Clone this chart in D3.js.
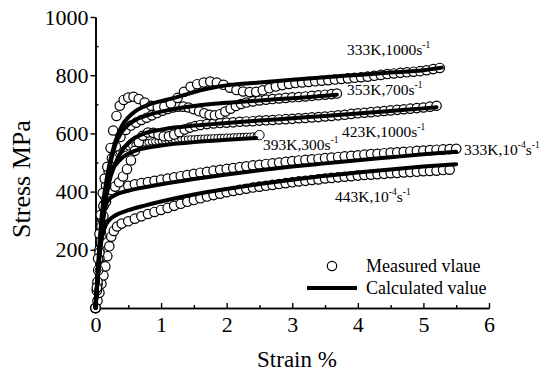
<!DOCTYPE html>
<html><head><meta charset="utf-8">
<script src="https://cdn.jsdelivr.net/npm/d3@7"></script>
<style>
body{margin:0;background:#fff}
svg{display:block}
</style>
</head><body>
<svg id="chart" width="548" height="374"></svg>
<script>
// ---- tick labels ----
const xTicks = [0, 1, 2, 3, 4, 5, 6];
const xMinorTicks = [0.5, 1.5, 2.5, 3.5, 4.5, 5.5];
const yTicks = [200, 400, 600, 800, 1000];
const yMinorTicks = [100, 300, 500, 700, 900];

// ---- series: [strain %, stress MPa] ----
const measured333K1000 = [[0,0],[0.02,70],[0.04,170],[0.06,255],[0.08,320],[0.11,395],[0.14,445],[0.18,485],[0.23,550],[0.27,610],[0.32,660],[0.37,695],[0.43,715],[0.5,723],[0.58,726],[0.66,718],[0.75,706],[0.85,695],[0.95,690],[1.05,692],[1.15,703],[1.25,722],[1.35,743],[1.45,760],[1.55,769],[1.65,775],[1.75,778],[1.85,775],[1.95,767],[2.05,757],[2.15,749],[2.25,744],[2.35,742],[2.45,743],[2.55,748],[2.65,755],[2.75,761],[2.85,766],[2.95,770],[3.05,773],[3.15,775],[3.25,777],[3.35,779],[3.45,781],[3.55,783],[3.65,785],[3.75,787],[3.85,789],[3.95,791],[4.05,793],[4.15,795],[4.25,798],[4.35,801],[4.45,804],[4.55,806],[4.65,808],[4.75,810],[4.85,812],[4.95,814],[5.05,817],[5.15,821],[5.25,825]];
const calc333K1000 = [[0,0],[0.03,110],[0.06,220],[0.1,330],[0.15,415],[0.2,480],[0.3,570],[0.4,625],[0.5,655],[0.6,675],[0.7,688],[0.8,698],[1.0,711],[1.2,722],[1.4,735],[1.6,748],[1.8,758],[2.0,765],[2.5,775],[3.0,784],[3.5,793],[4.0,801],[4.5,809],[5.0,817],[5.28,826]];

const measured353K700 = [[0,0],[0.03,90],[0.06,190],[0.09,280],[0.12,350],[0.16,420],[0.2,470],[0.25,515],[0.31,555],[0.38,588],[0.46,612],[0.54,627],[0.62,637],[0.7,646],[0.78,654],[0.86,662],[0.94,670],[1.02,678],[1.1,684],[1.18,689],[1.26,692],[1.34,692],[1.42,689],[1.5,683],[1.58,676],[1.66,669],[1.74,664],[1.82,662],[1.9,666],[1.98,675],[2.06,685],[2.14,694],[2.22,701],[2.3,706],[2.4,710],[2.5,713],[2.6,716],[2.7,718],[2.8,720],[2.9,722],[3.0,724],[3.1,725],[3.2,727],[3.3,729],[3.4,731],[3.5,733],[3.6,735],[3.68,737]];
const calc353K700 = [[0,0],[0.03,95],[0.06,190],[0.1,290],[0.15,390],[0.2,465],[0.25,520],[0.3,560],[0.4,605],[0.5,630],[0.6,645],[0.8,663],[1.0,675],[1.2,684],[1.5,694],[2.0,705],[2.5,713],[3.0,721],[3.5,729],[3.68,733]];

const measured423K1000 = [[0,0],[0.03,80],[0.06,170],[0.09,250],[0.12,315],[0.16,365],[0.2,392],[0.25,405],[0.3,417],[0.36,432],[0.42,452],[0.48,477],[0.54,507],[0.6,540],[0.66,570],[0.72,592],[0.8,603],[0.88,602],[0.96,595],[1.04,590],[1.12,590],[1.2,596],[1.28,604],[1.36,613],[1.44,620],[1.52,625],[1.6,629],[1.7,632],[1.8,634],[1.9,636],[2.0,637],[2.1,638],[2.2,640],[2.3,641],[2.4,642],[2.5,644],[2.6,645],[2.7,646],[2.8,648],[2.9,649],[3.0,650],[3.1,652],[3.2,653],[3.3,655],[3.4,656],[3.5,658],[3.6,660],[3.7,662],[3.8,664],[3.9,667],[4.0,669],[4.1,671],[4.2,673],[4.3,675],[4.4,677],[4.5,679],[4.6,681],[4.7,683],[4.8,685],[4.9,687],[5.0,689],[5.1,692],[5.2,695]];
const calc423K1000 = [[0,0],[0.03,90],[0.06,180],[0.1,270],[0.15,360],[0.2,425],[0.3,495],[0.4,540],[0.5,567],[0.6,585],[0.7,596],[0.8,604],[1.0,613],[1.2,620],[1.5,627],[2.0,636],[2.5,644],[3.0,652],[3.5,660],[4.0,668],[4.5,677],[5.0,686],[5.2,690]];

const measured393K300 = [[0,0],[0.02,60],[0.04,130],[0.06,200],[0.08,270],[0.1,330],[0.12,380],[0.14,420],[0.17,455],[0.2,480],[0.24,500],[0.28,515],[0.32,526],[0.36,535],[0.4,542],[0.45,548],[0.5,553],[0.55,557],[0.6,560],[0.65,563],[0.7,565],[0.75,567],[0.8,569],[0.85,571],[0.9,572],[0.95,573],[1.0,574],[1.05,575],[1.1,576],[1.15,577],[1.2,578],[1.25,579],[1.3,580],[1.35,581],[1.4,581],[1.45,582],[1.5,582],[1.55,583],[1.6,584],[1.65,584],[1.7,585],[1.75,585],[1.8,586],[1.85,586],[1.9,587],[1.95,587],[2.0,588],[2.05,588],[2.1,589],[2.15,589],[2.2,590],[2.25,590],[2.3,591],[2.35,591],[2.4,592],[2.45,592],[2.5,594]];
const calc393K300 = [[0,0],[0.03,95],[0.06,190],[0.1,290],[0.15,390],[0.2,445],[0.3,490],[0.4,515],[0.5,530],[0.6,540],[0.8,551],[1.0,558],[1.2,564],[1.5,570],[2.0,578],[2.45,584]];

const measured333K1e4 = [[0,0],[0.02,60],[0.04,130],[0.06,200],[0.08,260],[0.1,310],[0.13,355],[0.16,380],[0.2,395],[0.3,408],[0.4,415],[0.5,420],[0.6,425],[0.7,429],[0.8,433],[0.9,437],[1.0,441],[1.1,445],[1.2,449],[1.3,453],[1.4,457],[1.5,461],[1.6,465],[1.7,468],[1.8,472],[1.9,475],[2.0,478],[2.1,481],[2.2,484],[2.3,487],[2.4,490],[2.5,492],[2.6,495],[2.7,497],[2.8,500],[2.9,502],[3.0,505],[3.1,507],[3.2,509],[3.3,511],[3.4,513],[3.5,515],[3.6,517],[3.7,519],[3.8,521],[3.9,523],[4.0,525],[4.1,527],[4.2,529],[4.3,530],[4.4,532],[4.5,534],[4.6,535],[4.7,537],[4.8,538],[4.9,540],[5.0,541],[5.1,543],[5.2,544],[5.3,545],[5.4,546],[5.5,547]];
const calc333K1e4 = [[0,0],[0.03,95],[0.06,190],[0.1,290],[0.15,350],[0.2,372],[0.3,388],[0.5,403],[0.75,415],[1.0,425],[1.5,443],[2.0,459],[2.5,473],[3.0,486],[3.5,497],[4.0,508],[4.5,518],[5.0,528],[5.5,537]];

const measured443K1e4 = [[0,0],[0.03,25],[0.06,52],[0.09,83],[0.12,112],[0.15,143],[0.18,178],[0.21,212],[0.24,245],[0.28,265],[0.33,280],[0.4,290],[0.5,298],[0.6,307],[0.7,315],[0.8,323],[0.9,330],[1.0,337],[1.1,344],[1.2,351],[1.3,358],[1.4,365],[1.5,371],[1.6,377],[1.7,383],[1.8,388],[1.9,393],[2.0,398],[2.1,402],[2.2,406],[2.3,410],[2.4,414],[2.5,417],[2.6,420],[2.7,423],[2.8,426],[2.9,429],[3.0,432],[3.1,435],[3.2,437],[3.3,440],[3.4,442],[3.5,445],[3.6,447],[3.7,449],[3.8,451],[3.9,453],[4.0,455],[4.1,457],[4.2,458],[4.3,460],[4.4,461],[4.5,463],[4.6,464],[4.7,466],[4.8,467],[4.9,468],[5.0,470],[5.1,471],[5.2,472],[5.3,474],[5.4,475]];
const calc443K1e4 = [[0,0],[0.03,95],[0.06,180],[0.1,245],[0.15,282],[0.2,300],[0.3,318],[0.5,336],[0.75,352],[1.0,366],[1.5,390],[2.0,409],[2.5,426],[3.0,441],[3.5,454],[4.0,466],[4.5,476],[5.0,486],[5.5,494]];

// ---- text ----
const curveLabelParts = [
  [["333K,1000s",0],["-1",1]],
  [["353K,700s",0],["-1",1]],
  [["423K,1000s",0],["-1",1]],
  [["393K,300s",0],["-1",1]],
  [["333K,10",0],["-4",1],["s",0],["-1",1]],
  [["443K,10",0],["-4",1],["s",0],["-1",1]]
];
const legendLabels = ["Measured vlaue", "Calculated value"];
const xTitle = "Strain %";
const yTitle = "Stress MPa";
</script>
<script>
const FONT = "Liberation Serif";
const svg = d3.select("#chart").attr("font-family", FONT);
const x = d3.scaleLinear().domain([0, 6]).range([95.5, 489]);
const y = d3.scaleLinear().domain([0, 1000]).range([308, 17]);

const series = [
  {m: measured443K1e4, c: calc443K1e4, r: 4.7},
  {m: measured333K1e4, c: calc333K1e4, r: 4.7},
  {m: measured393K300, c: calc393K300, r: 3, small: true},
  {m: measured423K1000, c: calc423K1000, r: 4.7},
  {m: measured353K700, c: calc353K700, r: 4.7},
  {m: measured333K1000, c: calc333K1000, r: 4.7}
];

// axes
const fmt = d3.format("d");
const axes = [
  svg.append("g").attr("transform", "translate(95.5,0)")
    .call(d3.axisLeft(y).tickValues(yTicks).tickFormat(fmt).tickSizeInner(5).tickSizeOuter(0).tickPadding(2)),
  svg.append("g").attr("transform", "translate(95.5,0)")
    .call(d3.axisLeft(y).tickValues(yMinorTicks).tickSizeInner(-3).tickSizeOuter(0).tickFormat("")),
  svg.append("g").attr("transform", "translate(0,308)")
    .call(d3.axisBottom(x).tickValues(xTicks).tickFormat(fmt).tickSizeInner(-5).tickSizeOuter(0).tickPadding(8)),
  svg.append("g").attr("transform", "translate(0,308)")
    .call(d3.axisBottom(x).tickValues(xMinorTicks).tickSizeInner(-3).tickSizeOuter(0).tickFormat(""))
];
axes.forEach(g => g.attr("font-family", FONT).attr("font-size", 22));
svg.selectAll(".domain").attr("stroke", "#000").attr("stroke-width", 1.6);
svg.selectAll(".tick line").attr("stroke", "#000").attr("stroke-width", 1.4);
svg.selectAll(".tick text").attr("font-family", FONT).attr("font-size", 22).attr("fill", "#000");

// axis titles
svg.append("text").attr("x", 297).attr("y", 367).attr("text-anchor", "middle")
  .attr("font-family", FONT).attr("font-size", 23).text(xTitle);
svg.append("text").attr("transform", "translate(30,179) rotate(-90)").attr("text-anchor", "middle")
  .attr("font-family", FONT).attr("font-size", 26).text(yTitle);

// measured circles
const gC = svg.append("g");
series.forEach(s => {
  gC.selectAll(null).data(s.m).enter().append("circle")
    .attr("cx", d => x(d[0])).attr("cy", d => y(d[1]))
    .attr("r", (d, i) => (s.small && i === s.m.length - 1) ? 4.7 : s.r)
    .attr("fill", "#fff").attr("stroke", "#000").attr("stroke-width", s.small ? 1 : 1.2);
});

// calculated lines
const line = d3.line().x(d => x(d[0])).y(d => y(d[1])).curve(d3.curveMonotoneX);
series.forEach(s => {
  svg.append("path").attr("d", line(s.c)).attr("fill", "none")
    .attr("stroke", "#000").attr("stroke-width", 4).attr("stroke-linecap", "round");
});

// curve labels
const labelPos = [[347, 55], [347, 95], [342, 137], [263, 150], [464, 155], [335, 202]];
curveLabelParts.forEach((parts, k) => {
  const t = svg.append("text").attr("x", labelPos[k][0]).attr("y", labelPos[k][1])
    .attr("font-family", FONT).attr("font-size", 15.5);
  let up = false;
  parts.forEach(p => {
    const ts = t.append("tspan").text(p[0]);
    if (p[1]) {
      ts.attr("font-size", 9.5);
      if (!up) { ts.attr("dy", -7); up = true; }
    } else if (up) { ts.attr("dy", 7); up = false; }
  });
});

// legend
svg.append("circle").attr("cx", 332).attr("cy", 266).attr("r", 4.7)
  .attr("fill", "#fff").attr("stroke", "#000").attr("stroke-width", 1.2);
svg.append("text").attr("x", 366).attr("y", 272).attr("font-family", FONT).attr("font-size", 18).text(legendLabels[0]);
svg.append("line").attr("x1", 307).attr("x2", 357).attr("y1", 288).attr("y2", 288)
  .attr("stroke", "#000").attr("stroke-width", 4);
svg.append("text").attr("x", 366).attr("y", 294).attr("font-family", FONT).attr("font-size", 18).text(legendLabels[1]);
</script>
</body></html>
